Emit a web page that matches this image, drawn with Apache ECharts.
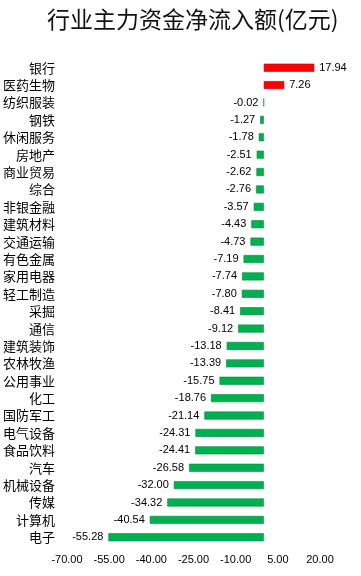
<!DOCTYPE html>
<html><head><meta charset="utf-8">
<script src="https://cdn.jsdelivr.net/npm/echarts@6/dist/echarts.min.js"></script>
<style>html,body{margin:0;padding:0;background:#fff}#c{width:361px;height:576px}</style>
</head><body><div id="c"></div>
<script>
const categories = ['银行','医药生物','纺织服装','钢铁','休闲服务','房地产','商业贸易','综合','非银金融','建筑材料','交通运输','有色金属','家用电器','轻工制造','采掘','通信','建筑装饰','农林牧渔','公用事业','化工','国防军工','电气设备','食品饮料','汽车','机械设备','传媒','计算机','电子'];
const values = [17.94, 7.26, -0.02, -1.27, -1.78, -2.51, -2.62, -2.76, -3.57, -4.43, -4.73, -7.19, -7.74, -7.80, -8.41, -9.12, -13.18, -13.39, -15.75, -18.76, -21.14, -24.31, -24.41, -26.58, -32.00, -34.32, -40.54, -55.28];
const axisMin = -70, axisMax = 20, axisStep = 15;
const title = '行业主力资金净流入额(亿元)';

const chart = echarts.init(document.getElementById('c'), null, {renderer: 'canvas'});
const data = values.map(v => ({
  value: v,
  itemStyle: {
    color: v >= 0 ? '#ff0000' : '#00b050',
    borderColor: v >= 0 ? '#c00000' : '#008a3e',
    borderWidth: 0.6
  },
  label: { position: v >= 0 ? 'right' : 'left' }
}));
chart.setOption({
  animation: false,
  title: {
    text: title, left: 42, top: 3, itemGap: 0,
    textStyle: { fontFamily: '"Noto Sans CJK SC"', fontSize: 23, fontWeight: 'normal', color: '#111' }
  },
  grid: { left: 65, right: 41, top: 59, bottom: 30, containLabel: false },
  xAxis: {
    type: 'value', min: axisMin, max: axisMax, interval: axisStep,
    axisLine: { show: false }, axisTick: { show: false }, splitLine: { show: false },
    axisLabel: { formatter: v => v.toFixed(2), fontFamily: '"Liberation Sans"', fontSize: 11, color: '#000', margin: 8 }
  },
  yAxis: {
    type: 'category', data: categories, inverse: true,
    axisLine: { show: false }, axisTick: { show: false },
    axisLabel: { fontFamily: '"Noto Sans CJK SC"', fontSize: 13, color: '#000', margin: 12, interval: 0 }
  },
  series: [{
    type: 'bar', data: data, barWidth: 8,
    label: { show: true, formatter: p => p.value.toFixed(2), fontFamily: '"Liberation Sans"', fontSize: 11, color: '#000', distance: 5 }
  }]
});
</script>
</body></html>
